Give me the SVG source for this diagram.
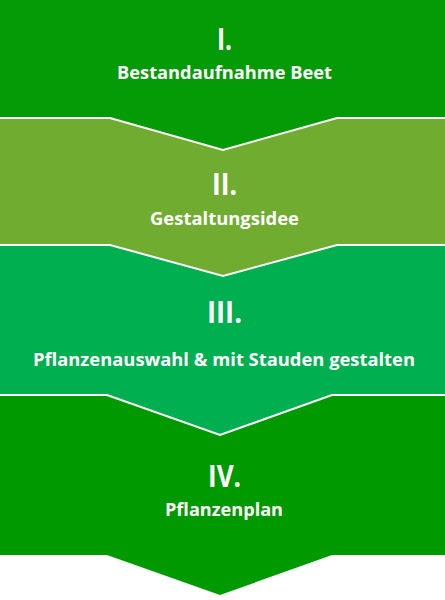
<svg xmlns="http://www.w3.org/2000/svg" width="445" height="600" viewBox="0 0 445 600">
<style>
.box{stroke:#FFFFFF;stroke-width:2;stroke-linejoin:miter}
.num{font-family:"Open Sans","Liberation Sans",sans-serif;font-weight:700;font-size:30px;fill:#FFFFFF;text-anchor:middle}
.lbl{font-family:"Open Sans","Liberation Sans",sans-serif;font-weight:700;font-size:17px;fill:#FFFFFF;text-anchor:middle}
</style>
<rect x="0" y="0" width="445" height="600" fill="#FFFFFF"/>
<g id="step4">
<polygon fill="#009A00" points="-5,395 450,395 450,555 332,555 220,595 107,555 -5,555"/>
<text class="num" x="224.5" y="487" textLength="33" lengthAdjust="spacingAndGlyphs">IV.</text>
<text class="lbl" x="224" y="516" textLength="118" lengthAdjust="spacingAndGlyphs">Pflanzenplan</text>
</g>
<g id="step3">
<polygon class="box" fill="#00AF50" points="-5,245 450,245 450,395 332,395 220,435 107,395 -5,395"/>
<text class="num" x="224.5" y="323" textLength="35" lengthAdjust="spacingAndGlyphs">III.</text>
<text class="lbl" x="224" y="366" textLength="382" lengthAdjust="spacingAndGlyphs">Pflanzenauswahl &amp; mit Stauden gestalten</text>
</g>
<g id="step2">
<polygon class="box" fill="#70AC30" points="-5,118 450,118 450,245 337,245 223,276 110,245 -5,245"/>
<text class="num" x="224.5" y="195" textLength="25" lengthAdjust="spacingAndGlyphs">II.</text>
<text class="lbl" x="224.5" y="225" textLength="149" lengthAdjust="spacingAndGlyphs">Gestaltungsidee</text>
</g>
<g id="step1">
<polygon class="box" fill="#059B07" points="-5,-5 450,-5 450,118 337,118 223,150 110,118 -5,118"/>
<text class="num" x="224.5" y="50" textLength="15" lengthAdjust="spacingAndGlyphs">I.</text>
<text class="lbl" x="224.5" y="79" textLength="215" lengthAdjust="spacingAndGlyphs">Bestandaufnahme Beet</text>
</g>
<g id="connectors"/>
</svg>
